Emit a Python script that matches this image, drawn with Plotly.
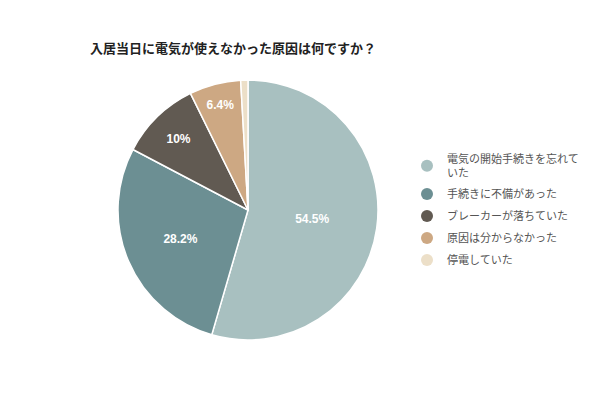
import plotly.graph_objects as go

title = "入居当日に電気が使えなかった原因は何ですか？"
labels = ["電気の開始手続きを忘れて<br>いた", "手続きに不備があった", "ブレーカーが落ちていた",
          "原因は分からなかった", "停電していた"]
values = [54.5, 28.2, 10, 6.4, 0.9]
slice_text = ["54.5%", "28.2%", "10%", "6.4%", ""]
colors = ["#a8c0c0", "#6c8f93", "#615a52", "#cda883", "#ecdfc8"]

W, H = 600, 400
OFF = 8  # page body margin


def px_x(x):
    return (x - OFF) / W


def px_y(y):
    return 1 - (y - OFF) / H


fig = go.Figure()
fig.add_trace(go.Pie(
    labels=labels, values=values, text=slice_text,
    textinfo="text", textposition="inside", insidetextorientation="horizontal",
    sort=False, direction="clockwise", rotation=0,
    marker=dict(colors=colors, line=dict(color="white", width=1.5)),
    textfont=dict(color="white", size=12, family="Liberation Sans", weight="bold"),
    showlegend=False, hoverinfo="label+percent",
    domain=dict(x=[px_x(118), px_x(378)], y=[px_y(340), px_y(80)]),
))

# circle markers for the legend
for i, (name, c) in enumerate(zip(labels, colors)):
    fig.add_trace(go.Scatter(x=[None], y=[None], mode="markers", name=name,
                             legendgroup=f"g{i}",
                             marker=dict(color=c, size=12, symbol="circle")))

fig.update_layout(
    width=W, height=H,
    margin=dict(l=0, r=0, t=0, b=0),
    paper_bgcolor="white", plot_bgcolor="white",
    font=dict(family="Noto Sans CJK JP", size=11, color="#555555"),
    title=dict(text="<b>" + title + "</b>", x=px_x(90), xanchor="left",
               y=px_y(48), yanchor="middle",
               font=dict(size=13, color="#222222")),
    xaxis=dict(visible=False), yaxis=dict(visible=False),
    legend=dict(x=px_x(407), y=px_y(145), xanchor="left", yanchor="top",
                font=dict(size=11, color="#555555"), tracegroupgap=3,
                itemwidth=30),
)

fig.write_html("out.html")
